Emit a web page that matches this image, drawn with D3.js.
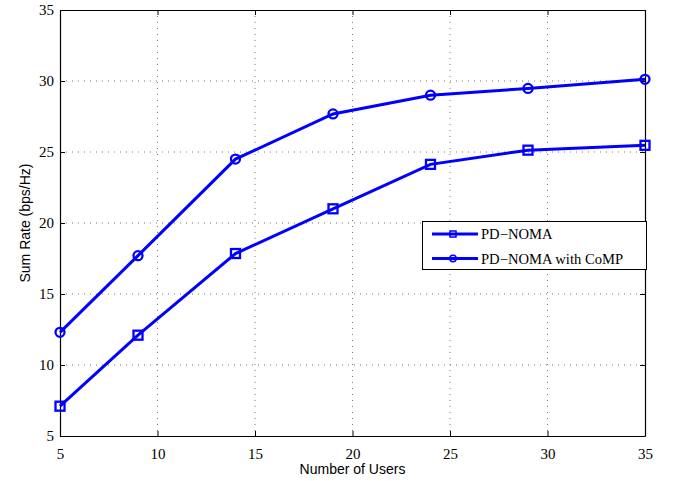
<!DOCTYPE html>
<html>
<head>
<meta charset="utf-8">
<script src="https://cdn.jsdelivr.net/npm/d3@7"></script>
<style>
body{margin:0;background:#fff;}
svg{display:block;}
</style>
</head>
<body>
<svg id="chart" width="675" height="481"></svg>
<script>
const users = [5, 9, 14, 19, 24, 29, 35];
const pdNoma = [7.1, 12.1, 17.85, 21.0, 24.13, 25.13, 25.47];
const pdNomaCoMP = [12.3, 17.7, 24.5, 27.68, 29.0, 29.48, 30.12];
const xTicks = [5, 10, 15, 20, 25, 30, 35];
const yTicks = [5, 10, 15, 20, 25, 30, 35];
const seriesNames = ["PD\u2212NOMA", "PD\u2212NOMA with CoMP"];
const xLabel = "Number of Users";
const yLabel = "Sum Rate (bps/Hz)";

const svg = d3.select("#chart");
const L = 60, R = 645, T = 10, B = 436;
const x = d3.scaleLinear().domain([5, 35]).range([L, R]);
const y = d3.scaleLinear().domain([5, 35]).range([B, T]);

const serif = "'Liberation Serif','Times New Roman',serif";
const sans = "'Liberation Sans',Arial,Helvetica,sans-serif";

// grid
const grid = svg.append("g");
xTicks.slice(1, -1).forEach(v => {
  grid.append("line").attr("x1", x(v)).attr("x2", x(v)).attr("y1", T).attr("y2", B)
    .attr("stroke", "#555").attr("stroke-width", 0.8).attr("stroke-dasharray", "1,5");
});
yTicks.slice(1, -1).forEach(v => {
  grid.append("line").attr("x1", L).attr("x2", R).attr("y1", y(v)).attr("y2", y(v))
    .attr("stroke", "#555").attr("stroke-width", 0.8).attr("stroke-dasharray", "1,5");
});

// axes
const xAxisB = d3.axisBottom(x).tickValues(xTicks).tickSizeInner(-5).tickSizeOuter(0).tickPadding(12);
const xAxisT = d3.axisTop(x).tickValues(xTicks).tickSizeInner(-5).tickSizeOuter(0).tickFormat("");
const yAxisL = d3.axisLeft(y).tickValues(yTicks).tickSizeInner(-5).tickSizeOuter(0).tickPadding(6);
const yAxisR = d3.axisRight(y).tickValues(yTicks).tickSizeInner(-5).tickSizeOuter(0).tickFormat("");

function style(g) {
  g.select(".domain").attr("stroke", "#000").attr("stroke-width", 1.2);
  g.selectAll(".tick line").attr("stroke", "#000").attr("stroke-width", 1);
  g.selectAll(".tick text").attr("fill", "#000").attr("font-family", serif).attr("font-size", 15);
}
svg.append("g").attr("transform", `translate(0,${B})`).call(xAxisB).call(style);
svg.append("g").attr("transform", `translate(0,${T})`).call(xAxisT).call(style);
svg.append("g").attr("transform", `translate(${L},0)`).call(yAxisL).call(style);
svg.append("g").attr("transform", `translate(${R},0)`).call(yAxisR).call(style);

// labels
svg.append("text").attr("x", (L + R) / 2).attr("y", 474).attr("text-anchor", "middle")
  .attr("font-family", sans).attr("font-size", 14).text(xLabel);
svg.append("text").attr("transform", `translate(30,${(T + B) / 2}) rotate(-90)`).attr("text-anchor", "middle")
  .attr("font-family", sans).attr("font-size", 14).text(yLabel);

const color = "#0000ff";
const line = d3.line().x(d => x(d[0])).y(d => y(d[1]));
const s1 = users.map((u, i) => [u, pdNoma[i]]);
const s2 = users.map((u, i) => [u, pdNomaCoMP[i]]);

svg.append("path").datum(s1).attr("d", line).attr("fill", "none").attr("stroke", color).attr("stroke-width", 3);
svg.append("path").datum(s2).attr("d", line).attr("fill", "none").attr("stroke", color).attr("stroke-width", 3);

svg.append("g").selectAll("rect").data(s1).join("rect")
  .attr("x", d => x(d[0]) - 4.5).attr("y", d => y(d[1]) - 4.5).attr("width", 9).attr("height", 9)
  .attr("fill", "none").attr("stroke", color).attr("stroke-width", 2.3);
svg.append("g").selectAll("circle").data(s2).join("circle")
  .attr("cx", d => x(d[0])).attr("cy", d => y(d[1])).attr("r", 4.5)
  .attr("fill", "none").attr("stroke", color).attr("stroke-width", 2.3);

// legend
const lg = svg.append("g");
lg.append("rect").attr("x", 422.5).attr("y", 221.5).attr("width", 224).attr("height", 48)
  .attr("fill", "#fff").attr("stroke", "#000").attr("stroke-width", 1);
const rows = [234, 258.5];
rows.forEach((ry, i) => {
  lg.append("line").attr("x1", 432).attr("x2", 478).attr("y1", ry).attr("y2", ry)
    .attr("stroke", color).attr("stroke-width", 3);
  if (i === 0) {
    lg.append("rect").attr("x", 450).attr("y", ry - 3).attr("width", 6).attr("height", 6)
      .attr("fill", "none").attr("stroke", color).attr("stroke-width", 1.5);
  } else {
    lg.append("circle").attr("cx", 453).attr("cy", ry).attr("r", 3.2)
      .attr("fill", "none").attr("stroke", color).attr("stroke-width", 1.5);
  }
  lg.append("text").attr("x", 481).attr("y", ry + 5).attr("font-family", serif).attr("font-size", 14.6)
    .attr("fill", "#000").text(seriesNames[i]);
});
</script>
</body>
</html>
